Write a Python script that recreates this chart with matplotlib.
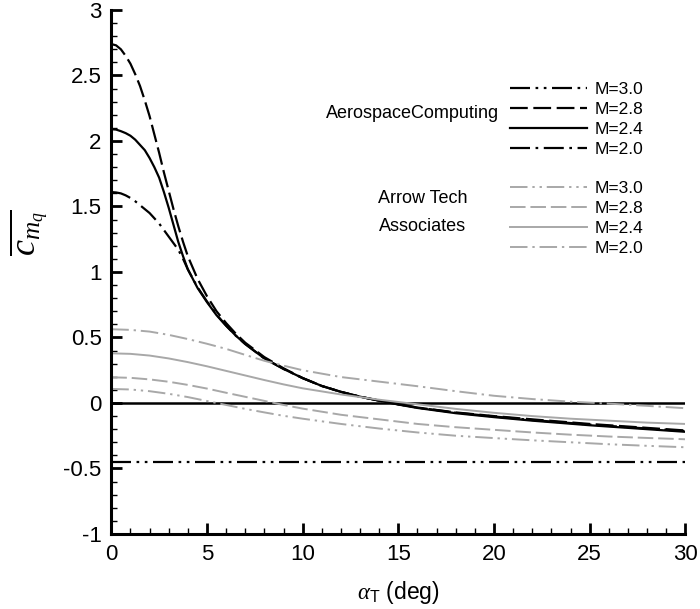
import matplotlib
matplotlib.use("Agg")
import matplotlib.pyplot as plt
from matplotlib.ticker import MultipleLocator

plt.rcParams['font.family'] = ['Liberation Sans', 'DejaVu Sans']
plt.rcParams['mathtext.fontset'] = 'custom'
plt.rcParams['mathtext.rm'] = 'Liberation Serif'
plt.rcParams['mathtext.it'] = 'Liberation Serif:italic'
plt.rcParams['mathtext.sf'] = 'Liberation Sans'

# ---- data: AerospaceComputing (black) ----
ac_alpha = [0, 0.25, 0.5, 0.75, 1, 1.25, 1.5, 1.75, 2, 2.25, 2.5, 2.75, 3, 3.25,
            3.5, 3.75, 4, 4.5, 5, 5.5, 6, 6.5, 7, 8, 9, 10,
            11, 12, 13, 14, 15, 16, 18, 20, 22, 25, 28, 30]
ac_m28 = [2.74, 2.73, 2.70, 2.65, 2.59, 2.51, 2.42, 2.31, 2.19, 2.05, 1.91, 1.76,
          1.62, 1.48, 1.35, 1.23, 1.12, 0.95, 0.815, 0.70,
          0.61, 0.53, 0.46, 0.35, 0.265, 0.19, 0.13, 0.085, 0.048, 0.018, -0.01,
          -0.035, -0.072, -0.10, -0.125, -0.16, -0.19, -0.21]
ac_m24 = [2.09, 2.087, 2.075, 2.06, 2.04, 2.01, 1.97, 1.93, 1.87, 1.80, 1.72, 1.61,
          1.49, 1.36, 1.23, 1.12, 1.02, 0.88, 0.77, 0.67,
          0.59, 0.515, 0.45, 0.34, 0.26, 0.19, 0.13, 0.085, 0.048, 0.018, -0.012,
          -0.038, -0.078, -0.108, -0.135, -0.17, -0.20, -0.22]
ac_m20 = [1.61, 1.607, 1.60, 1.585, 1.565, 1.54, 1.51, 1.48, 1.45, 1.41, 1.37, 1.32,
          1.27, 1.22, 1.17, 1.10, 1.02, 0.885, 0.775, 0.675,
          0.59, 0.515, 0.45, 0.34, 0.26, 0.19, 0.13, 0.085, 0.048, 0.018, -0.01,
          -0.035, -0.074, -0.103, -0.13, -0.165, -0.195, -0.215]
ac_m30_alpha = [0, 30]
ac_m30 = [-0.45, -0.45]

# ---- data: Arrow Tech Associates (gray) ----
at_alpha = [0, 1, 2, 3, 4, 5, 6, 7, 8, 9, 10, 12, 14, 16, 18, 20, 22, 24, 26, 28, 30]
at_m20 = [0.563, 0.558, 0.545, 0.52, 0.488, 0.452, 0.413, 0.367, 0.322, 0.285,
          0.25, 0.198, 0.163, 0.128, 0.09, 0.055, 0.03, 0.01, -0.005, -0.022, -0.04]
at_m24 = [0.379, 0.375, 0.362, 0.34, 0.312, 0.28, 0.245, 0.21, 0.175, 0.142,
          0.112, 0.065, 0.025, -0.01, -0.045, -0.075, -0.10, -0.12, -0.135, -0.15,
          -0.16]
at_m28 = [0.196, 0.192, 0.18, 0.162, 0.138, 0.11, 0.078, 0.047, 0.016, -0.015,
          -0.043, -0.09, -0.125, -0.16, -0.185, -0.205, -0.225, -0.242, -0.256,
          -0.267, -0.277]
at_m30 = [0.107, 0.103, 0.09, 0.07, 0.045, 0.015, -0.015, -0.045, -0.072, -0.098,
          -0.12, -0.16, -0.195, -0.225, -0.25, -0.268, -0.285, -0.30, -0.315,
          -0.327, -0.338]

mach_labels = ['M=3.0', 'M=2.8', 'M=2.4', 'M=2.0']
xticks = [0, 5, 10, 15, 20, 25, 30]
yticks = [-1, -0.5, 0, 0.5, 1, 1.5, 2, 2.5, 3]
ytick_labels = ['-1', '-0.5', '0', '0.5', '1', '1.5', '2', '2.5', '3']

# ---- styles ----
dashdotdot = (0, (9, 2.5, 1.2, 2.5, 1.2, 2.5))
dashed = (0, (8, 2.5))
dashdot = (0, (9, 2.5, 1.2, 2.5))
black = 'black'
gray = '#a8a8a8'
lw_b = 1.6
lw_g = 1.4

fig = plt.figure(figsize=(7.0, 6.09), dpi=100)
ax = fig.add_axes([0.159, 0.1232, 0.820, 0.8604])

ax.axhline(0, color='black', lw=1.8, zorder=1)

h_ac30, = ax.plot(ac_m30_alpha, ac_m30, color=black, lw=lw_b, ls=dashdotdot)
h_ac28, = ax.plot(ac_alpha, ac_m28, color=black, lw=lw_b, ls=dashed)
h_ac24, = ax.plot(ac_alpha, ac_m24, color=black, lw=lw_b, ls='-')
h_ac20, = ax.plot(ac_alpha, ac_m20, color=black, lw=lw_b, ls=dashdot)

h_at30, = ax.plot(at_alpha, at_m30, color=gray, lw=lw_g, ls=dashdotdot)
h_at28, = ax.plot(at_alpha, at_m28, color=gray, lw=lw_g, ls=dashed)
h_at24, = ax.plot(at_alpha, at_m24, color=gray, lw=lw_g, ls='-')
h_at20, = ax.plot(at_alpha, at_m20, color=gray, lw=lw_g, ls=dashdot)

ax.set_xlim(0, 30)
ax.set_ylim(-1, 3)
ax.set_xticks(xticks)
ax.set_xticklabels([str(v) for v in xticks])
ax.set_yticks(yticks)
ax.set_yticklabels(ytick_labels)
ax.xaxis.set_minor_locator(MultipleLocator(1))
ax.yaxis.set_minor_locator(MultipleLocator(0.1))

for s in ['top', 'right']:
    ax.spines[s].set_visible(False)
for s in ['left', 'bottom']:
    ax.spines[s].set_linewidth(2.2)

ax.tick_params(which='major', direction='in', length=8, width=2.0,
               labelsize=16, pad=7)
ax.tick_params(which='minor', direction='in', length=4.5, width=1.0)

ax.set_xlabel(r'$\alpha_{\mathsf{T}}$ (deg)', fontsize=16.5, labelpad=10)
ax.set_ylabel(r'$\overline{c_{m_q}}$', fontsize=26)
ax.yaxis.set_label_coords(-0.105, 0.575)

leg_kw = dict(loc='upper left', frameon=False, fontsize=12.5, handlelength=4.4,
              handletextpad=0.45, labelspacing=0.28, borderpad=0,
              borderaxespad=0)
leg1 = ax.legend([h_ac30, h_ac28, h_ac24, h_ac20], mach_labels,
                 bbox_to_anchor=(0.695, 0.862), **leg_kw)
ax.add_artist(leg1)
leg2 = ax.legend([h_at30, h_at28, h_at24, h_at20], mach_labels,
                 bbox_to_anchor=(0.695, 0.674), **leg_kw)

ax.text(0.675, 0.803, 'AerospaceComputing', transform=ax.transAxes,
        fontsize=13, ha='right', va='center')
ax.text(0.542, 0.641, 'Arrow Tech', transform=ax.transAxes,
        fontsize=13, ha='center', va='center')
ax.text(0.542, 0.586, 'Associates', transform=ax.transAxes,
        fontsize=13, ha='center', va='center')

fig.savefig('out.png', dpi=100)
